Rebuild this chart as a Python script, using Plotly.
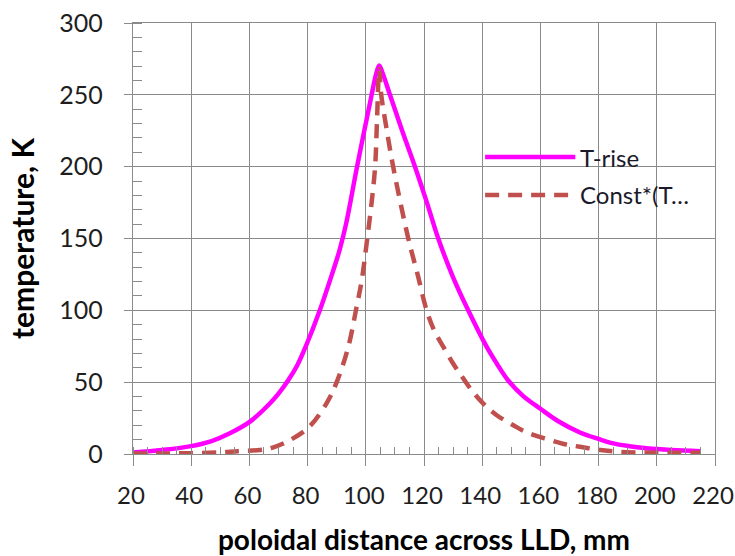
import plotly.graph_objects as go

# ---- data ----
trise_name = "T-rise"
trise_x = [20, 30, 40, 47, 53.3, 60.2, 67.1, 70, 73.4, 76.5, 79.4, 84.2, 88.2, 91, 93.2, 97,
           102, 103.5, 104.6, 105.8, 108.3, 112.5, 116.9, 121, 124.9, 130, 135.2, 141.5,
           145, 149, 154, 160, 166, 173.6, 180, 185, 190, 196.5, 205, 215]
trise_y = [1, 2.8, 5.5, 9, 14.4, 22.5, 35.3, 42, 51.5, 62, 75, 100, 124, 142, 160, 200,
           250, 264, 270.5, 265, 250, 225, 200, 175, 150, 123, 100, 74.7,
           63, 51, 40.5, 31.5, 23, 15, 10.5, 7.4, 5.6, 4, 2.8, 2]

const_name = "Const*(T\u2026"
const_x = [20, 30, 40, 50, 56, 63.6, 68, 74, 80.6, 86.5, 90, 94, 96.6, 98.6, 100.5,
           102, 103.2, 103.9, 104.6, 105.3, 107, 109.4, 114.6, 117.8, 120.9, 123.5, 126.6,
           130, 133, 136.5, 140.4, 145, 150.7, 155.3, 162, 168, 173.6, 180, 185, 195,
           205, 215]
const_y = [0.3, 0.4, 0.6, 1.2, 2, 2.8, 4.5, 9.7, 19, 35.3, 50, 74.7, 100, 121, 150,
           175, 200, 235, 268, 250, 228, 200, 150, 125, 100, 86, 74.7,
           63, 54, 44, 35, 27, 20, 15, 10.5, 7, 5, 3, 1.8, 1,
           0.8, 0.8]

x_ticks = list(range(20, 221, 20))
y_ticks = list(range(0, 301, 50))

x_title = "poloidal distance across LLD, mm"
y_title = "temperature, K"

MAGENTA = "#ff00ff"
BROWN = "#c0504d"
GRID = "#8a8a8a"
FONT = "Lato"
DASH = "14px,9px"

fig = go.Figure()
fig.add_trace(go.Scatter(x=trise_x, y=trise_y, mode="lines", name=trise_name,
                         line=dict(color=MAGENTA, width=4.5, shape="spline", smoothing=1.0),
                         showlegend=False))
fig.add_trace(go.Scatter(x=const_x, y=const_y, mode="lines", name=const_name,
                         line=dict(color=BROWN, width=4.5, dash=DASH,
                                   shape="spline", smoothing=1.0),
                         showlegend=False))

# manual legend (long line samples like the reference)
fig.add_shape(type="rect", xref="paper", yref="paper", x0=0.567, x1=0.985, y0=0.555, y1=0.733,
              fillcolor="white", line=dict(width=0), layer="between")
legend_items = [(trise_name, MAGENTA, "solid", 0.689), (const_name, BROWN, DASH, 0.601)]
for name, col, dash, yy in legend_items:
    fig.add_shape(type="line", xref="paper", yref="paper", x0=0.605, x1=0.76, y0=yy, y1=yy,
                  line=dict(color=col, width=4.5, dash=dash), layer="above")
    fig.add_annotation(xref="paper", yref="paper", x=0.765, y=yy, text=name, showarrow=False,
                       xanchor="left", yanchor="middle",
                       font=dict(family=FONT, size=24, color="#1a1a2a"))

axis_common = dict(showgrid=True, gridcolor=GRID, gridwidth=1.3,
                   showline=True, linecolor=GRID, linewidth=1.3, mirror=True,
                   zeroline=False, tickcolor=GRID, tickwidth=1.3, automargin=False,
                   ticklabeloverflow="allow")

fig.update_xaxes(range=[20, 220], tickvals=x_ticks, ticks="outside", ticklen=11,
                 ticklabelstandoff=9, ticklabelshift=-2,
                 tickfont=dict(family=FONT, size=24, color="#1e1e1e"),
                 minor=dict(ticks="inside", dtick=5, ticklen=7, tickcolor=GRID, tickwidth=1.3,
                            showgrid=False),
                 title=dict(text=x_title,
                            font=dict(family=FONT, size=28, color="black", weight="bold"),
                            standoff=23),
                 **axis_common)
fig.update_yaxes(range=[0, 300], tickvals=y_ticks, ticks="outside", ticklen=8,
                 ticklabelstandoff=16,
                 tickfont=dict(family=FONT, size=25, color="#1e1e1e"),
                 minor=dict(ticks="inside", dtick=10, ticklen=9, tickcolor=GRID, tickwidth=1.3,
                            showgrid=False),
                 title=dict(text=y_title,
                            font=dict(family=FONT, size=30, color="black", weight="bold"),
                            standoff=15),
                 **axis_common)

fig.update_layout(width=735, height=556, plot_bgcolor="white", paper_bgcolor="white",
                  margin=dict(l=133, r=20, t=23, b=102), showlegend=False,
                  font=dict(family=FONT))

# remove the page's default body margin so the figure fills the 735x556 window
fig.write_html("out.html",
               config={"displayModeBar": False},
               post_script="document.body.style.margin='0';document.body.style.overflow='hidden';")
